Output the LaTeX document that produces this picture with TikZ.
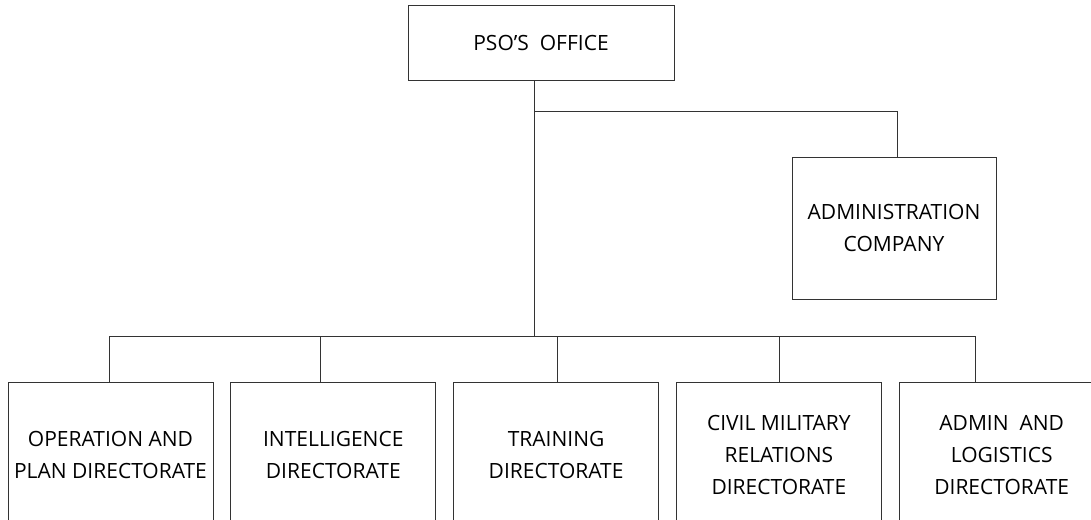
\documentclass[tikz,border=0pt]{standalone}
\usepackage{fontspec}
\setmainfont{Open Sans}
\usetikzlibrary{positioning}

\begin{document}
\begin{tikzpicture}[x=1pt,y=-1pt,
		office node/.style={rectangle,draw=black!80,line width=0.8pt,align=center,inner sep=0pt,
			font=\fontsize{21}{32}\selectfont},
		unit node/.style={office node,minimum width=205pt,minimum height=146pt}]
	\useasboundingbox (0,0) rectangle (1091,519);
	\clip (0,0) rectangle (1091,519);

	\node[office node,minimum width=266pt,minimum height=75pt] (pso) at (541,42.5) {PSO’S\ \ OFFICE};
	\node[office node,minimum width=204pt,minimum height=142pt] (adm) at (894,228) {ADMINISTRATION\\COMPANY};

	\node[unit node] (op) at (110.5,455) {OPERATION AND\\PLAN DIRECTORATE};
	\node[unit node] (intel) [right=17pt of op] {INTELLIGENCE\\DIRECTORATE};
	\node[unit node] (train) [right=17pt of intel] {TRAINING\\DIRECTORATE};
	\node[unit node] (civil) [right=17pt of train] {CIVIL MILITARY\\RELATIONS\\DIRECTORATE};
	\node[unit node] (logi) [right=17pt of civil] {ADMIN\ \ AND\\LOGISTICS\\DIRECTORATE};

	\coordinate (fork) at (534,111);
	\coordinate (admdrop) at (897,111);
	\coordinate (bus) at (534,336);
	\coordinate (d1) at (109,336);
	\coordinate (d2) at (320,336);
	\coordinate (d3) at (557,336);
	\coordinate (d4) at (779,336);
	\coordinate (d5) at (975,336);

	\path[draw=black!80,line width=0.8pt]
		(pso.south -| bus) edge (bus)
		(fork) edge (admdrop)
		(admdrop) edge (admdrop |- adm.north)
		(d1) edge (d5);
	\foreach \d/\n in {d1/op,d2/intel,d3/train,d4/civil,d5/logi}
		\draw[black!80,line width=0.8pt] (\d) -- (\d |- \n.north);
\end{tikzpicture}
\end{document}
